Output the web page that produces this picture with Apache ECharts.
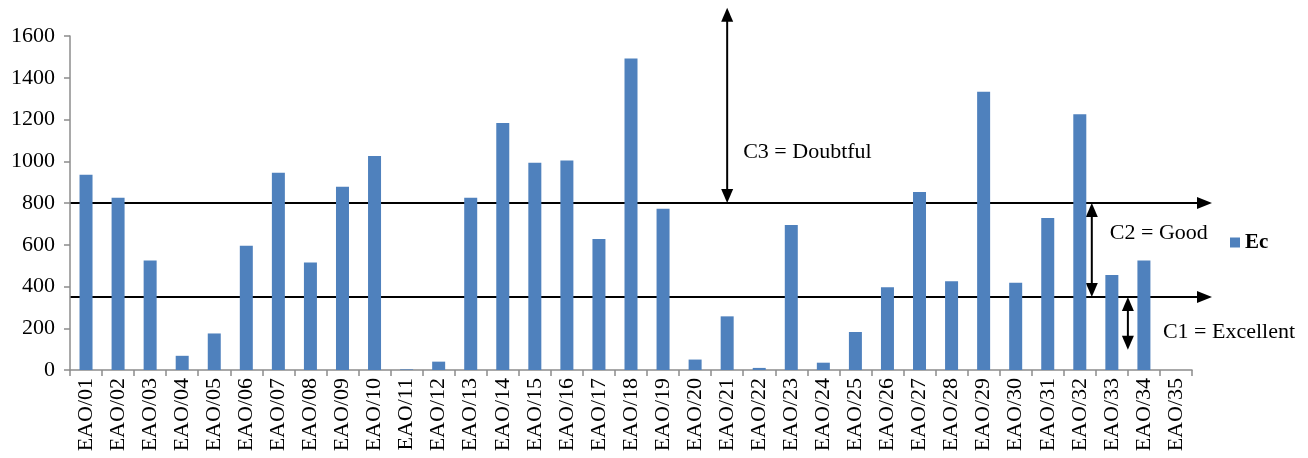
<!DOCTYPE html>
<html>
<head>
<meta charset="utf-8">
<script src="https://cdn.jsdelivr.net/npm/echarts@6/dist/echarts.min.js"></script>
<style>
  html, body { margin: 0; padding: 0; background: #fff; }
  #chart { width: 1308px; height: 458px; }
</style>
</head>
<body>
<div id="chart"></div>
<script>
// Sample codes along the x axis
const categories = [
  'EAO/01','EAO/02','EAO/03','EAO/04','EAO/05','EAO/06','EAO/07','EAO/08','EAO/09','EAO/10',
  'EAO/11','EAO/12','EAO/13','EAO/14','EAO/15','EAO/16','EAO/17','EAO/18','EAO/19','EAO/20',
  'EAO/21','EAO/22','EAO/23','EAO/24','EAO/25','EAO/26','EAO/27','EAO/28','EAO/29','EAO/30',
  'EAO/31','EAO/32','EAO/33','EAO/34','EAO/35'
];
// Electrical conductivity per sample
const ecValues = [
  935, 825, 525, 68, 175, 595, 945, 515, 878, 1025,
  3, 40, 825, 1183, 993, 1003, 628, 1492, 773, 50,
  257, 10, 695, 35, 182, 397, 853, 425, 1333, 418,
  728, 1225, 455, 525, 0
];
// Class limits and their labels
const limitExcellentGood = 350;
const limitGoodDoubtful = 800;
const classLabels = ['C1 = Excellent', 'C2 = Good', 'C3 = Doubtful'];

const FONT = '"Liberation Serif", "Times New Roman", serif';
const chart = echarts.init(document.getElementById('chart'), null, { renderer: 'canvas' });

chart.setOption({
  animation: false,
  backgroundColor: '#ffffff',
  grid: { left: 70, right: 116, top: 36, bottom: 88, containLabel: false },
  legend: {
    data: ['Ec'],
    orient: 'vertical',
    left: 1225, top: 227,
    itemWidth: 10, itemHeight: 10, itemGap: 4,
    icon: 'rect',
    textStyle: { fontFamily: FONT, fontSize: 21, fontWeight: 'bold', color: '#000' }
  },
  xAxis: {
    type: 'category',
    data: categories,
    boundaryGap: true,
    axisLine: { lineStyle: { color: '#8c8c8c', width: 1.5 } },
    axisTick: { show: true, alignWithLabel: false, length: 6, lineStyle: { color: '#8c8c8c', width: 1.5 } },
    axisLabel: { interval: 0, rotate: 90, margin: 8, fontFamily: FONT, fontSize: 22, color: '#000' },
    splitLine: { show: false }
  },
  yAxis: {
    type: 'value',
    min: 0, max: 1600, interval: 200,
    axisLine: { show: true, lineStyle: { color: '#8c8c8c', width: 1.5 } },
    axisTick: { show: true, length: 6, lineStyle: { color: '#8c8c8c', width: 1.5 } },
    axisLabel: { margin: 15, fontFamily: FONT, fontSize: 22, color: '#000', formatter: v => String(v) },
    splitLine: { show: false }
  },
  series: [{
    name: 'Ec',
    type: 'bar',
    data: ecValues,
    barWidth: 13,
    itemStyle: { color: '#4f81bd' }
  }]
});

// Annotation layer: class limit lines and range arrows placed through the axes
function px(catIndex, value) {
  return chart.convertToPixel({ gridIndex: 0 }, [catIndex, value]);
}
const step = px(1, 0)[0] - px(0, 0)[0];
const x0 = px(0, 0)[0] - step / 2;
const yLow = px(0, limitExcellentGood)[1];
const yHigh = px(0, limitGoodDoubtful)[1];
const lineEnd = x0 + 35 * step + 20;

function hArrow(y) {
  return [
    { type: 'line', shape: { x1: x0, y1: y, x2: lineEnd - 12, y2: y }, style: { stroke: '#000', lineWidth: 2 } },
    { type: 'polygon', shape: { points: [[lineEnd, y], [lineEnd - 15, y - 6], [lineEnd - 15, y + 6]] }, style: { fill: '#000' } }
  ];
}
function vArrow(x, yTop, yBot) {
  return [
    { type: 'line', shape: { x1: x, y1: yTop + 12, x2: x, y2: yBot - 12 }, style: { stroke: '#000', lineWidth: 2 } },
    { type: 'polygon', shape: { points: [[x, yTop], [x - 6, yTop + 14], [x + 6, yTop + 14]] }, style: { fill: '#000' } },
    { type: 'polygon', shape: { points: [[x, yBot], [x - 6, yBot - 14], [x + 6, yBot - 14]] }, style: { fill: '#000' } }
  ];
}
function label(text, x, y) {
  return { type: 'text', x: x, y: y, style: { text: text, font: '22px ' + FONT, fill: '#000', verticalAlign: 'middle' } };
}

const xC3 = px(20, 0)[0];
const xC2 = px(31, 0)[0] + 12;
const xC1 = px(32, 0)[0] + step / 2;
const yC3Top = px(0, 1735)[1];
const yC1Bot = px(0, 97)[1];

chart.setOption({
  graphic: [
    ...hArrow(yHigh),
    ...hArrow(yLow),
    ...vArrow(xC3, yC3Top, yHigh),
    ...vArrow(xC2, yHigh, yLow),
    ...vArrow(xC1, yLow, yC1Bot),
    label(classLabels[2], xC3 + 16, px(0, 1045)[1]),
    label(classLabels[1], xC2 + 18, px(0, 655)[1]),
    label(classLabels[0], xC1 + 35, px(0, 182)[1])
  ]
});
</script>
</body>
</html>
